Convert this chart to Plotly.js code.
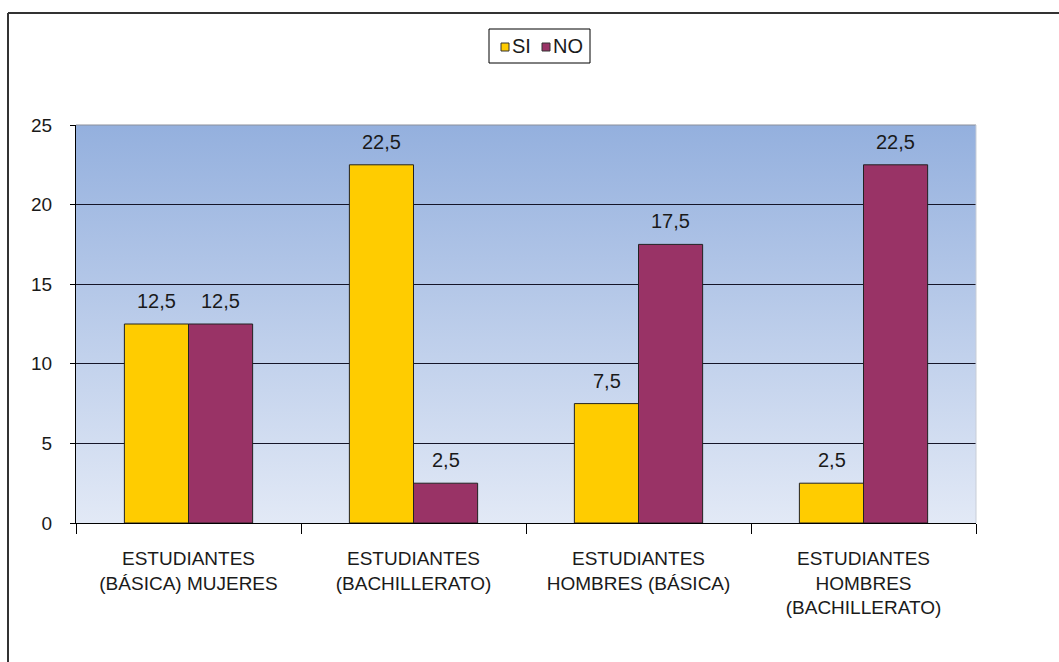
<!DOCTYPE html>
<html>
<head>
<meta charset="utf-8">
<script src="https://cdn.plot.ly/plotly-3.0.1.min.js"></script>
<style>html,body{margin:0;padding:0;background:#fff;}#chart{width:1059px;height:662px;}</style>
</head>
<body>
<div id="chart"></div>
<script>
const categories = [
  "ESTUDIANTES<br>(BÁSICA) MUJERES",
  "ESTUDIANTES<br>(BACHILLERATO)",
  "ESTUDIANTES<br>HOMBRES (BÁSICA)",
  "ESTUDIANTES<br>HOMBRES<br>(BACHILLERATO)"
];
const seriesNames = ["SI", "NO"];
const siValues = [12.5, 22.5, 7.5, 2.5];
const noValues = [12.5, 2.5, 17.5, 22.5];
const yTicks = [0, 5, 10, 15, 20, 25];

const W = 1059, H = 662;
const L = 76, R = 976, T = 125, B = 523;
const px = x => (x - L) / (R - L);
const py = y => (B - y) / (B - T);

const colors = ["#ffcc00", "#993366"];
const svg = "<svg xmlns='http://www.w3.org/2000/svg' width='10' height='100' viewBox='0 0 10 100' preserveAspectRatio='none'><defs><linearGradient id='g' x1='0' y1='0' x2='0' y2='1'><stop offset='0' stop-color='#94b0de'/><stop offset='1' stop-color='#e2e9f6'/></linearGradient></defs><rect width='10' height='100' fill='url(#g)'/></svg>";

const fam = "'Liberation Sans', Arial, sans-serif";
const font = {family: fam, size: 20, color: "#1a1a1a"};
const tickFont = {family: fam, size: 19, color: "#1a1a1a"};

const series = [siValues, noValues];
const traces = series.map((vals, i) => ({
  type: "bar", name: seriesNames[i], x: categories, y: vals,
  marker: {color: colors[i], line: {color: "#222", width: 1}},
  hoverinfo: "none", showlegend: false
}));

// data labels
const fmt = v => v.toFixed(1).replace(".", ",");
const annotations = [];
series.forEach((vals, i) => {
  vals.forEach((v, j) => {
    annotations.push({x: categories[j], y: v, xref: "x", yref: "y", text: fmt(v),
      showarrow: false, xanchor: "center", yanchor: "bottom", xshift: i === 0 ? -32 : 32,
      yshift: 10, font: font});
  });
});
// legend texts
annotations.push({xref: "paper", yref: "paper", x: px(510), y: py(46), xanchor: "left", yanchor: "middle",
  text: seriesNames[0], showarrow: false, font: font});
annotations.push({xref: "paper", yref: "paper", x: px(551), y: py(46), xanchor: "left", yanchor: "middle",
  text: seriesNames[1], showarrow: false, font: font});

const layout = {
  width: W, height: H,
  margin: {l: L, r: W - R, t: T, b: H - B, pad: 0},
  paper_bgcolor: "#ffffff",
  plot_bgcolor: "rgba(0,0,0,0)",
  separators: ",.",
  font: font,
  barmode: "group",
  bargap: 0.43,
  bargroupgap: 0,
  showlegend: false,
  xaxis: {type: "category", showgrid: false, showline: true, linecolor: "#000", linewidth: 1,
          ticks: "outside", tickson: "boundaries", ticklen: 10, tickcolor: "#000",
          tickfont: tickFont, ticklabelstandoff: 18, fixedrange: true},
  yaxis: {range: [0, 25], tickvals: yTicks, showgrid: true, gridcolor: "#151528", gridwidth: 1,
          showline: true, linecolor: "#000", linewidth: 1, zeroline: false,
          ticks: "outside", ticklen: 5, tickcolor: "#000", tickfont: tickFont, ticklabelstandoff: 14,
          fixedrange: true},
  images: [{source: "data:image/svg+xml;base64," + btoa(svg), xref: "paper", yref: "paper",
            x: 0, y: 1, sizex: 1, sizey: 1, sizing: "stretch", layer: "below",
            xanchor: "left", yanchor: "top"}],
  annotations: annotations,
  shapes: [
    {type: "line", xref: "paper", yref: "paper", x0: 0, x1: 1, y0: 1, y1: 1, line: {color: "#8a8f9a", width: 1}},
    {type: "line", xref: "paper", yref: "paper", x0: 1, x1: 1, y0: 0, y1: 1, line: {color: "#c8cdd6", width: 1}},
    {type: "line", xref: "paper", yref: "paper", x0: px(8), x1: px(W + 5), y0: py(13), y1: py(13), line: {color: "#333", width: 2}},
    {type: "line", xref: "paper", yref: "paper", x0: px(8), x1: px(8), y0: py(13), y1: py(H + 5), line: {color: "#333", width: 2}},
    // legend box and keys
    {type: "rect", xref: "paper", yref: "paper", x0: px(489), x1: px(590), y0: py(63), y1: py(29),
     fillcolor: "#fff", line: {color: "#000", width: 1}},
    {type: "rect", xref: "paper", yref: "paper", x0: px(501), x1: px(509), y0: py(51), y1: py(43),
     fillcolor: colors[0], line: {color: "#333", width: 1}},
    {type: "rect", xref: "paper", yref: "paper", x0: px(542), x1: px(550), y0: py(51), y1: py(43),
     fillcolor: colors[1], line: {color: "#333", width: 1}}
  ]
};

Plotly.newPlot("chart", traces, layout, {displayModeBar: false, staticPlot: true});
</script>
</body>
</html>
